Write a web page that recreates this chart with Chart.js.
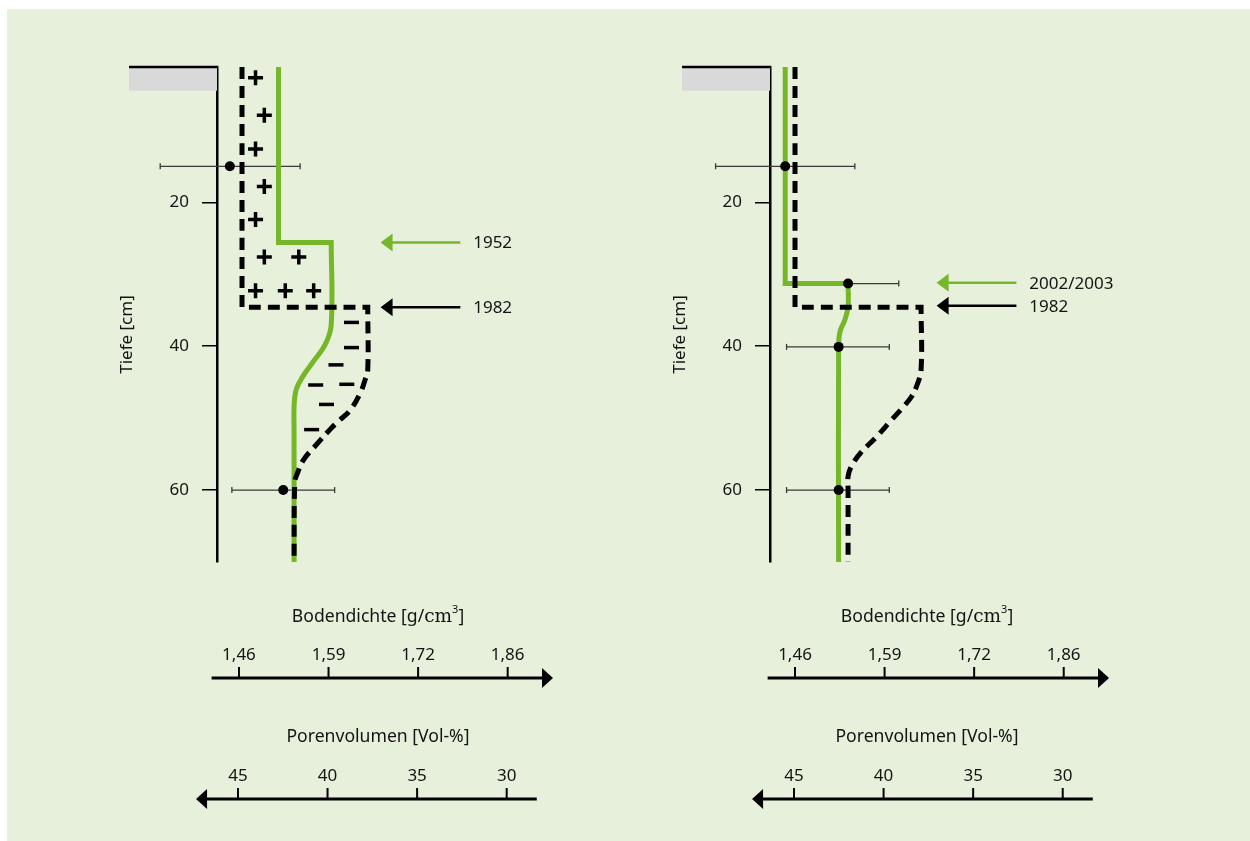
<!DOCTYPE html>
<html>
<head>
<meta charset="utf-8">
<script src="https://cdn.jsdelivr.net/npm/chart.js@4/dist/chart.umd.min.js"></script>
<style>
body{margin:0;background:#fff;width:1250px;height:841px;overflow:hidden;}
#bg{position:absolute;left:7px;top:9px;width:1243px;height:832px;background:#e6f0da;}
.box{position:absolute;top:0;width:625px;height:841px;}
</style>
</head>
<body>
<div id="bg"></div>
<div class="box" style="left:0"><canvas id="c1"></canvas></div>
<div class="box" style="left:625px"><canvas id="c2"></canvas></div>
<script>
const GREEN='#76b72a';
const INK='#141414';
const FONT='"Noto Sans", sans-serif';

/* ----- DATA ----- */
const depthTicks=[20,40,60];
const dichteLabels=["1,46","1,59","1,72","1,86"];
const porenTicks=[45,40,35,30];

// left panel: 1952 (green) vs 1982 (dashed)
const l1952Depth=[1.2,25.6,25.6,37.0,39.8,42.2,44.2,46.1,48.4,51.6,70];
const l1952Dichte=[1.516,1.516,1.594,1.594,1.585,1.567,1.552,1.542,1.539,1.539,1.539];
const l1982Depth=[1.2,34.6,34.6,43.3,44.7,46.5,48.9,50.4,51.6,53.7,55.8,57.9,58.9,70];
const l1982Dichte=[1.462,1.462,1.648,1.648,1.644,1.637,1.622,1.605,1.592,1.572,1.553,1.543,1.540,1.539];
const plusDepth=[2.7,7.9,12.6,17.8,22.4,27.6,27.6,32.3,32.3,32.3];
const plusDichte=[1.482,1.495,1.482,1.495,1.482,1.495,1.546,1.482,1.526,1.568];
const minusDepth=[36.7,40.2,42.6,45.4,45.3,48.1,51.6];
const minusDichte=[1.624,1.624,1.601,1.571,1.617,1.587,1.565];
const lPtDepth=[15,60];
const lPtDichte=[1.444,1.523];
const lErrLo=[1.341,1.447];
const lErrHi=[1.548,1.599];
const lArrowLabels=["1952","1982"];
const lArrowDepth=[25.6,34.6];

// right panel: 2002/2003 (green) vs 1982 (dashed)
const r2002Depth=[1.2,31.3,31.3,34.5,36.4,38.0,40.1,70];
const r2002Dichte=[1.443,1.443,1.536,1.536,1.531,1.524,1.522,1.522];
const r1982Depth=[1.2,34.6,34.6,43.3,45.4,47.0,48.4,50.5,52.6,54.9,56.7,58.1,60,70];
const r1982Dichte=[1.4575,1.4575,1.644,1.644,1.638,1.630,1.618,1.598,1.578,1.554,1.541,1.536,1.536,1.536];
const rPtDepth=[15,31.3,40.1,60];
const rPtDichte=[1.443,1.536,1.522,1.522];
const rErrLo=[1.340,1.459,1.445,1.445];
const rErrHi=[1.546,1.611,1.597,1.597];
const rArrowLabels=["2002/2003","1982"];
const rArrowDepth=[31.2,34.4];

/* ----- UTIL ----- */
const pts=(dep,x)=>dep.map((d,i)=>({x:x[i],y:d}));

// step corners are listed twice so the spline keeps them sharp
function profile(dep,x){
 const out=[];
 dep.forEach((d,i)=>{
  const p={x:x[i],y:d};
  out.push(p);
  if(dep[i-1]===d||dep[i+1]===d) out.push({...p});
 });
 return out;
}

function line(c,x1,y1,x2,y2){
 c.beginPath();c.moveTo(x1,y1);c.lineTo(x2,y2);c.stroke();
}
function tri(c,x1,y1,x2,y2,x3,y3){
 c.beginPath();c.moveTo(x1,y1);c.lineTo(x2,y2);c.lineTo(x3,y3);c.closePath();c.fill();
}

/* ----- DECORATION PLUGIN ----- */
const deco={
 id:'deco',
 beforeDatasetsDraw(ch,args,o){
  const c=ch.ctx,xs=ch.scales.x,ys=ch.scales.y,a=ch.chartArea;
  c.save();
  // soil surface
  const t=ys.getPixelForValue(1.2),b=ys.getPixelForValue(4.5);
  c.fillStyle='#d9d9d9';
  c.fillRect(a.left-88,t,88,b-t);
  c.strokeStyle='#000';c.lineWidth=2.5;
  line(c,a.left-88,t,a.left+1,t);
  // error bars
  c.strokeStyle='#3a3a3a';c.lineWidth=1.3;
  o.ptDepth.forEach((d,i)=>{
   const py=ys.getPixelForValue(d);
   const x1=xs.getPixelForValue(o.lo[i]),x2=xs.getPixelForValue(o.hi[i]);
   line(c,x1,py,x2,py);
   line(c,x1,py-3,x1,py+3);
   line(c,x2,py-3,x2,py+3);
  });
  c.restore();
 },
 afterDatasetsDraw(ch,args,o){
  const c=ch.ctx,xs=ch.scales.x,ys=ch.scales.y;
  c.save();
  c.font='17px '+FONT;c.textBaseline='middle';c.textAlign='left';
  o.arrowDepth.forEach((d,i)=>{
   const py=ys.getPixelForValue(d);
   const tip=xs.getPixelForValue(1.667),tail=xs.getPixelForValue(1.785);
   const col=i===0?GREEN:'#000';
   c.strokeStyle=c.fillStyle=col;c.lineWidth=2.5;
   line(c,tip+8,py,tail,py);
   tri(c,tip,py,tip+12,py-9,tip+12,py+9);
   c.fillStyle=INK;
   c.fillText(o.arrowLabels[i],xs.getPixelForValue(1.804),py+1);
  });
  c.restore();
 },
 afterDraw(ch,args,o){
  const c=ch.ctx,xs=ch.scales.x,a=ch.chartArea;
  const dPos=p=>xs.getPixelForValue(2.65*(1-p/100));
  const TF='17.6px '+FONT;
  c.save();
  c.strokeStyle=c.fillStyle='#000';
  c.textAlign='center';c.textBaseline='middle';

  // depth title
  c.save();
  c.translate(a.left-90,(a.top+a.bottom)/2+20);
  c.rotate(-Math.PI/2);
  c.fillStyle=INK;c.font='17px '+FONT;
  c.fillText("Tiefe [cm]",0,0);
  c.restore();

  const cx=a.left+o.titleOff;

  // Bodendichte axis
  const yA=678;
  const tipR=xs.getPixelForValue(1.922);
  c.lineWidth=3;line(c,xs.getPixelForValue(1.417),yA,tipR-8,yA);
  tri(c,tipR,yA,tipR-11,yA-10,tipR-11,yA+10);
  c.font='17px '+FONT;
  porenTicks.forEach((p,i)=>{
   const px=dPos(p);
   c.lineWidth=2;line(c,px,yA-11,px,yA);
   c.fillStyle=INK;c.fillText(dichteLabels[i],px,655);
  });
  // title with serif cm and superscript
  const parts=[["Bodendichte [g/",TF,0],["cm",'18.5px "DejaVu Serif", serif',0],["3",'11px '+FONT,-7],["]",TF,0]];
  let w=0;
  parts.forEach(p=>{c.font=p[1];w+=c.measureText(p[0]).width;});
  let x0=cx-w/2;
  c.textAlign='left';c.fillStyle=INK;
  parts.forEach(p=>{c.font=p[1];c.fillText(p[0],x0,617+p[2]);x0+=c.measureText(p[0]).width;});
  c.textAlign='center';

  // Porenvolumen axis
  const yB=799;
  const tipL=xs.getPixelForValue(1.394);
  c.fillStyle='#000';
  c.lineWidth=3;line(c,tipL+8,yB,xs.getPixelForValue(1.898),yB);
  tri(c,tipL,yB,tipL+11,yB-10,tipL+11,yB+10);
  c.font='17px '+FONT;
  porenTicks.forEach(p=>{
   const px=dPos(p)-1;
   c.lineWidth=2;line(c,px,yB-11,px,yB);
   c.fillStyle=INK;c.fillText(String(p),px,776);
  });
  c.font=TF;
  c.fillText("Porenvolumen [Vol-%]",cx,737);
  c.restore();
 }
};

/* ----- CHART ----- */
function makeChart(id,cfg){
 const datasets=[
  {data:pts(cfg.ptDepth,cfg.ptDichte),pointRadius:5,pointBackgroundColor:'#000',pointBorderWidth:0,clip:false},
  {data:pts(cfg.plusDepth,cfg.plusDichte),pointStyle:'cross',pointRadius:7.5,pointBorderColor:'#000',pointBorderWidth:3.5},
  {data:pts(cfg.minusDepth,cfg.minusDichte),pointStyle:'line',pointRadius:7.5,pointBorderColor:'#000',pointBorderWidth:3.5},
  {data:profile(cfg.oldDepth,cfg.oldDichte),showLine:true,tension:0.4,pointRadius:0,borderColor:'#000',borderWidth:5,borderDash:[12,7],borderJoinStyle:'miter',borderCapStyle:'butt'},
  {data:profile(cfg.newDepth,cfg.newDichte),showLine:true,tension:0.4,pointRadius:0,borderColor:GREEN,borderWidth:5,borderJoinStyle:'miter'}
 ];
 return new Chart(document.getElementById(id),{
  type:'scatter',
  data:{datasets},
  options:{
   responsive:true,maintainAspectRatio:false,animation:false,
   layout:{padding:{top:67,bottom:279,left:0,right:cfg.padRight}},
   plugins:{
    legend:{display:false},tooltip:{enabled:false},
    deco:{ptDepth:cfg.ptDepth,lo:cfg.lo,hi:cfg.hi,arrowDepth:cfg.arrowDepth,arrowLabels:cfg.arrowLabels,titleOff:cfg.titleOff}
   },
   scales:{
    x:{type:'linear',display:false,min:cfg.xMin,max:cfg.xMax},
    y:{
     type:'linear',reverse:true,min:1.2,max:70,
     afterBuildTicks:s=>{s.ticks=depthTicks.map(v=>({value:v}));},
     afterFit:s=>{s.width=cfg.axisW;s.paddingTop=0;s.paddingBottom=0;},
     border:{display:true,color:'#000',width:2.5},
     grid:{drawOnChartArea:false,tickLength:15,color:'#000',lineWidth:1.5},
     ticks:{color:INK,padding:13,font:{family:FONT,size:17}}
    }
   }
  },
  plugins:[deco]
 });
}

makeChart('c1',{
 axisW:217,padRight:65,xMin:1.425,xMax:1.9324,titleOff:161,
 newDepth:l1952Depth,newDichte:l1952Dichte,oldDepth:l1982Depth,oldDichte:l1982Dichte,
 plusDepth,plusDichte,minusDepth,minusDichte,
 ptDepth:lPtDepth,ptDichte:lPtDichte,lo:lErrLo,hi:lErrHi,
 arrowDepth:lArrowDepth,arrowLabels:lArrowLabels
});

makeChart('c2',{
 axisW:145,padRight:137,xMin:1.4205,xMax:1.9279,titleOff:157,
 newDepth:r2002Depth,newDichte:r2002Dichte,oldDepth:r1982Depth,oldDichte:r1982Dichte,
 plusDepth:[],plusDichte:[],minusDepth:[],minusDichte:[],
 ptDepth:rPtDepth,ptDichte:rPtDichte,lo:rErrLo,hi:rErrHi,
 arrowDepth:rArrowDepth,arrowLabels:rArrowLabels
});
</script>
</body>
</html>
